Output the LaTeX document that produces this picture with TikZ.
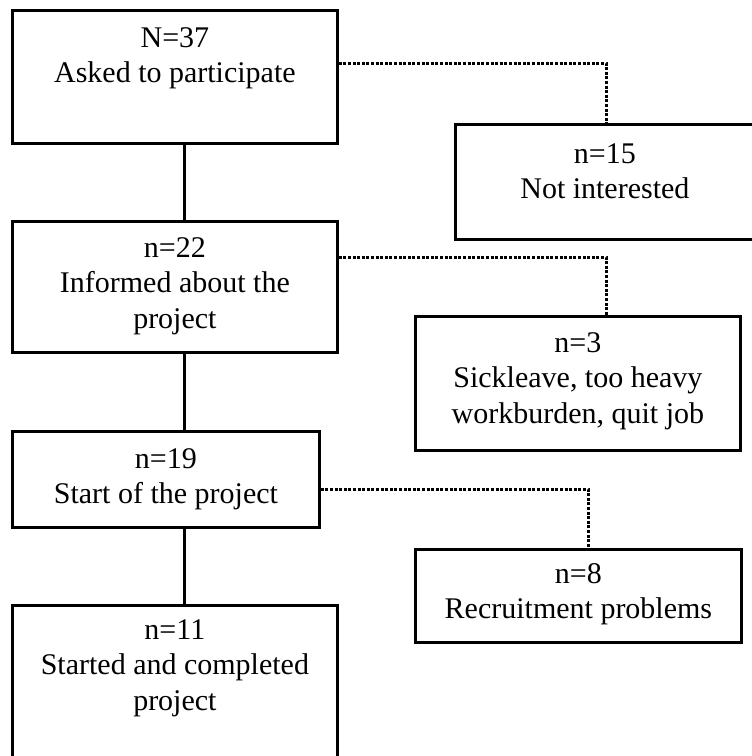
\documentclass[tikz,border=0pt]{standalone}
\usepackage{fontspec}
\setmainfont{Liberation Serif}
\begin{document}
\begin{tikzpicture}[x=1pt,y=1pt,
  box/.style={draw=black, line width=2.8pt, rectangle, inner sep=0pt, anchor=north west},
  lbl/.style={align=center, inner sep=0pt, anchor=north, font=\fontsize{30}{35.5}\selectfont},
  conn/.style={draw=black, line width=3pt},
  dotline/.style={draw=black, line width=3pt, dash pattern=on 3pt off 1.6pt}]
\useasboundingbox (0,0) rectangle (752,-756);
\clip (0,0) rectangle (752,-756);
\node[box, minimum width=325pt, minimum height=133pt] (b1) at (11,-9) {};
\node[box, minimum width=299pt, minimum height=115pt] (b2) at (454,-123) {};
\node[box, minimum width=325pt, minimum height=131pt] (b3) at (11,-220) {};
\node[box, minimum width=325pt, minimum height=134pt] (b4) at (414,-315) {};
\node[box, minimum width=307pt, minimum height=96pt] (b5) at (11,-430) {};
\node[box, minimum width=326pt, minimum height=93pt] (b6) at (414,-548) {};
\node[box, minimum width=325pt, minimum height=170pt] (b7) at (11,-604) {};
\node[lbl] (t1) at ([yshift=-18pt]b1.north) {N=37\\Asked to participate};
\node[lbl] (t2) at ([yshift=-20pt]b2.north) {n=15\\Not interested};
\node[lbl] (t3) at ([yshift=-17pt]b3.north) {n=22\\Informed about the\\project};
\node[lbl] (t4) at ([yshift=-17pt]b4.north) {n=3\\Sickleave, too heavy\\workburden, quit job};
\node[lbl] (t5) at ([yshift=-18pt]b5.north) {n=19\\Start of the project};
\node[lbl] (t6) at ([yshift=-15pt]b6.north) {n=8\\Recruitment problems};
\node[lbl] (t7) at ([yshift=-15pt]b7.north) {n=11\\Started and completed\\project};
\draw[conn] ([xshift=173pt]b1.south west) -- ([xshift=173pt]b3.north west);
\draw[conn] ([xshift=173pt]b3.south west) -- ([xshift=173pt]b5.north west);
\draw[conn] ([xshift=173pt]b5.south west) -- ([xshift=173pt]b7.north west);
\draw[dotline] ([yshift=-54pt]b1.north east) -| ([xshift=152pt]b2.north west);
\draw[dotline] ([yshift=-37pt]b3.north east) -| ([xshift=192pt]b4.north west);
\draw[dotline] ([yshift=-59pt]b5.north east) -| ([xshift=174pt]b6.north west);
\end{tikzpicture}
\end{document}
